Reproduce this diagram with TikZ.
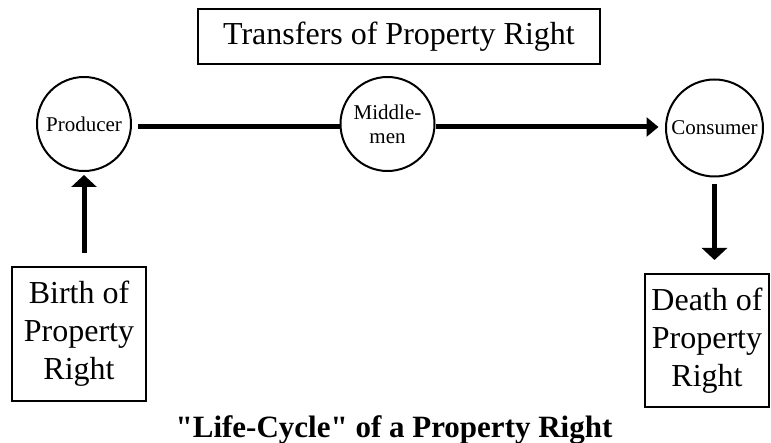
\documentclass[tikz,border=0pt]{standalone}
\usepackage{fontspec}
\setmainfont{Liberation Serif}[Ligatures=TeXOff]
\usetikzlibrary{arrows.meta}
\begin{document}
\begin{tikzpicture}[x=1pt,y=1pt,
 boxnode/.style={draw, line width=2pt, inner sep=0pt, align=center},
 circnode/.style={draw, circle, line width=2pt, inner sep=0pt, align=center, font=\fontsize{21}{24}\selectfont},
 bigtext/.style={font=\fontsize{32}{38}\selectfont},
 flow/.style={line width=5pt},
 flowarrow/.style={line width=5pt, -{Triangle[length=12pt,width=19pt]}},
 vertarrow/.style={line width=5pt, -{Triangle[length=12pt,width=25pt]}}]
\useasboundingbox (0,0) rectangle (771,-443);
\node[boxnode, minimum width=402pt, minimum height=55pt, bigtext] (title) at (399,-36.5) {Transfers of Property Right};
\node[circnode, minimum size=94pt] (prod) at (84,-124) {Producer};
\node[circnode, minimum size=94pt] (mid) at (387.5,-124) {Middle-\\men};
\node[circnode, minimum size=97pt] (cons) at (714.5,-128) {Consumer};
\node[boxnode, minimum width=134pt, minimum height=134pt, bigtext] (birth) at (79,-334) {Birth of\\Property\\Right};
\node[boxnode, minimum width=124pt, minimum height=133pt, bigtext] (death) at (707,-340.5) {Death of\\Property\\Right};
\node[font=\bfseries\fontsize{31}{36}\selectfont, anchor=base, inner sep=0pt] (cap) at (394,-437) {"Life-Cycle" of a Property Right};
\draw[flow, shorten <=6pt] ([yshift=-3pt]prod.east) -- ([yshift=-3pt]mid.west);
\draw[flowarrow, shorten >=6.5pt] ([yshift=-3pt]mid.east) -- ([yshift=1pt]cons.west);
\draw[vertarrow, shorten <=13pt, shorten >=3pt] (birth.north -| prod.south) -- (prod.south);
\draw[vertarrow, shorten <=7pt, shorten >=13pt] (cons.south) -- (cons.south |- death.north);
\end{tikzpicture}
\end{document}
